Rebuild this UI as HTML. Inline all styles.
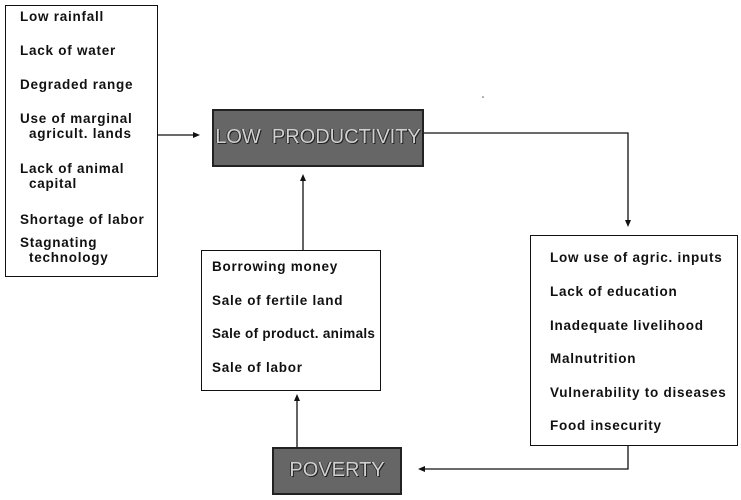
<!DOCTYPE html>
<html><head><style>
body{margin:0;width:741px;height:500px;background:#fff;position:relative;overflow:hidden;font-family:"Liberation Sans",sans-serif;}
.b{position:absolute;border:1.5px solid #111;box-sizing:border-box;background:#fff}
.t{position:absolute;font-weight:bold;font-size:13.5px;letter-spacing:0.75px;color:#111;white-space:nowrap;line-height:15px}
.d{position:absolute;background:#666;border:2px solid #222;box-sizing:border-box;color:#d0d0d0;font-size:20px;text-align:center;text-shadow:1px 1px 0 #222,-1px 0 0 #333}
</style></head><body>
<div class="b" style="left:5px;top:5px;width:153px;height:272px"></div>
<div class="t" style="left:20px;top:9px">Low rainfall</div>
<div class="t" style="left:20px;top:43px">Lack of water</div>
<div class="t" style="left:20px;top:77px">Degraded range</div>
<div class="t" style="left:20px;top:111px">Use of marginal<br>&nbsp;&nbsp;agricult. lands</div>
<div class="t" style="left:20px;top:161px">Lack of animal<br>&nbsp;&nbsp;capital</div>
<div class="t" style="left:20px;top:212px">Shortage of labor</div>
<div class="t" style="left:20px;top:235px">Stagnating<br>&nbsp;&nbsp;technology</div>

<div class="d" style="left:212px;top:109px;width:212px;height:58px;line-height:52px">LOW&nbsp; PRODUCTIVITY</div>
<div class="d" style="left:272px;top:447px;width:130px;height:48px;line-height:42px">POVERTY</div>

<div class="b" style="left:201px;top:250px;width:180px;height:141px"></div>
<div class="t" style="left:212px;top:259px">Borrowing money</div>
<div class="t" style="left:212px;top:293px">Sale of fertile land</div>
<div class="t" style="left:212px;top:326px;letter-spacing:0.3px">Sale of product. animals</div>
<div class="t" style="left:212px;top:360px">Sale of labor</div>

<div class="b" style="left:530px;top:235px;width:208px;height:211px"></div>
<div class="t" style="left:550px;top:250px">Low use of agric. inputs</div>
<div class="t" style="left:550px;top:284px">Lack of education</div>
<div class="t" style="left:550px;top:318px">Inadequate livelihood</div>
<div class="t" style="left:550px;top:351px">Malnutrition</div>
<div class="t" style="left:550px;top:385px">Vulnerability to diseases</div>
<div class="t" style="left:550px;top:418px">Food insecurity</div>

<svg width="741" height="500" style="position:absolute;left:0;top:0">
<g stroke="#111" stroke-width="1.3" fill="none">
<line x1="158" y1="135" x2="197" y2="135"/>
<polyline points="424,133 628,133 628,223"/>
<line x1="303" y1="250" x2="303" y2="178"/>
<line x1="297" y1="447" x2="297" y2="398"/>
<polyline points="628,446 628,469 423,469"/>
</g>
<g fill="#111">
<polygon points="200,135 193,132 193,138"/>
<polygon points="628,227 625,220 631,220"/>
<polygon points="303,174 300,181 306,181"/>
<polygon points="297,394 294,401 300,401"/>
<polygon points="418,469 425,466 425,472"/>
</g>
<circle cx="483" cy="97" r="0.8" fill="#555"/>
</svg>
</body></html>
